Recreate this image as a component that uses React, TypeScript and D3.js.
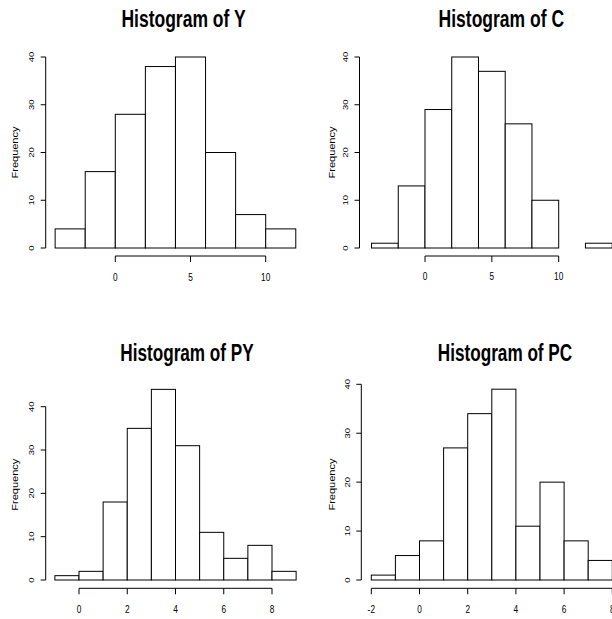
import React from "react";
import * as d3 from "d3";

// ---- data ----
const yBreaks = [-4, -2, 0, 2, 4, 6, 8, 10, 12];
const yCounts = [4, 16, 28, 38, 40, 20, 7, 4];
const cBreaks = [-4, -2, 0, 2, 4, 6, 8, 10, 12, 14];
const cCounts = [1, 13, 29, 40, 37, 26, 10, 0, 1];
const pyBreaks = [-1, 0, 1, 2, 3, 4, 5, 6, 7, 8, 9];
const pyCounts = [1, 2, 18, 35, 44, 31, 11, 5, 8, 2];
const pcBreaks = [-2, -1, 0, 1, 2, 3, 4, 5, 6, 7, 8];
const pcCounts = [1, 5, 8, 27, 34, 39, 11, 20, 8, 4];

const yXTicks = [0, 5, 10];
const cXTicks = [0, 5, 10];
const pyXTicks = [0, 2, 4, 6, 8];
const pcXTicks = [-2, 0, 2, 4, 6, 8];
const freqTicks = [0, 10, 20, 30, 40];

const titles = ["Histogram of Y", "Histogram of C", "Histogram of PY", "Histogram of PC"];

// ---- layout ----
type Panel = {
  title: string;
  breaks: number[];
  counts: number[];
  xTicks: number[];
  xDom: [number, number];
  xRange: [number, number];
  yRange: [number, number]; // pixel for 0 and 40
  yAxisX: number;
  xAxisY: number;
  titleX: number;
  titleY: number;
  tickLabelY: number;
  freqX: number;
  titleScale: number;
};

const panels: Panel[] = [
  {
    title: titles[0], breaks: yBreaks, counts: yCounts, xTicks: yXTicks,
    xDom: [0, 10], xRange: [115.3, 265.7], yRange: [248, 57],
    yAxisX: 45.7, xAxisY: 256, titleX: 183.5, titleY: 27.3, tickLabelY: 280.5,
    freqX: 14, titleScale: 0.745,
  },
  {
    title: titles[1], breaks: cBreaks, counts: cCounts, xTicks: cXTicks,
    xDom: [0, 10], xRange: [425, 558.7], yRange: [248, 57],
    yAxisX: 359.5, xAxisY: 256, titleX: 501.3, titleY: 27.3, tickLabelY: 280,
    freqX: 331, titleScale: 0.745,
  },
  {
    title: titles[2], breaks: pyBreaks, counts: pyCounts, xTicks: pyXTicks,
    xDom: [0, 8], xRange: [79, 272], yRange: [580, 406.7],
    yAxisX: 45.7, xAxisY: 588.3, titleX: 187, titleY: 360.5, tickLabelY: 613,
    freqX: 14, titleScale: 0.73,
  },
  {
    title: titles[3], breaks: pcBreaks, counts: pcCounts, xTicks: pcXTicks,
    xDom: [-2, 8], xRange: [371.3, 612.3], yRange: [580, 384.3],
    yAxisX: 361.3, xAxisY: 588.3, titleX: 505, titleY: 360.5, tickLabelY: 613,
    freqX: 331, titleScale: 0.73,
  },
];

const FONT = "'Liberation Sans', Arial, Helvetica, sans-serif";

function HistPanel({ p }: { p: Panel }) {
  const x = d3.scaleLinear().domain(p.xDom).range(p.xRange);
  const y = d3.scaleLinear().domain([0, 40]).range(p.yRange);
  const maxC = d3.max(p.counts) as number;
  const yTickVals = freqTicks.filter((t) => t <= Math.max(40, maxC));
  const freqCenter = y(maxC / 2);
  const bins = p.counts.map((c, i) => ({ x0: p.breaks[i], x1: p.breaks[i + 1], c }));
  const xt0 = p.xTicks[0];
  const xt1 = p.xTicks[p.xTicks.length - 1];
  return (
    <g>
      <text
        transform={`translate(${p.titleX},${p.titleY}) scale(${p.titleScale},1)`}
        textAnchor="middle"
        fontFamily={FONT}
        fontWeight="bold"
        fontSize={23.5}
        fill="#000"
      >
        {p.title}
      </text>
      {bins.map((b, i) => (
        <rect
          key={i}
          x={x(b.x0)}
          y={y(b.c)}
          width={x(b.x1) - x(b.x0)}
          height={y(0) - y(b.c)}
          fill="#fff"
          stroke="#000"
          strokeWidth={1}
        />
      ))}
      {/* y axis */}
      <line x1={p.yAxisX} x2={p.yAxisX} y1={y(0)} y2={y(yTickVals[yTickVals.length - 1])} stroke="#000" strokeWidth={1} />
      {yTickVals.map((t) => (
        <g key={t}>
          <line x1={p.yAxisX - 5} x2={p.yAxisX} y1={y(t)} y2={y(t)} stroke="#000" strokeWidth={1} />
          <text
            transform={`translate(${p.yAxisX - 11.5},${y(t)}) rotate(-90) scale(1,0.85)`}
            textAnchor="middle"
            fontFamily={FONT}
            fontSize={9.5}
            fill="#000"
          >
            {t}
          </text>
        </g>
      ))}
      <text
        transform={`translate(${p.freqX + 3.5},${freqCenter}) rotate(-90) scale(1,0.75)`}
        textAnchor="middle"
        fontFamily={FONT}
        fontSize={11}
        fill="#000"
      >
        Frequency
      </text>
      {/* x axis */}
      <line x1={x(xt0)} x2={x(xt1)} y1={p.xAxisY} y2={p.xAxisY} stroke="#000" strokeWidth={1} />
      {p.xTicks.map((t) => (
        <g key={t}>
          <line x1={x(t)} x2={x(t)} y1={p.xAxisY} y2={p.xAxisY + 6} stroke="#000" strokeWidth={1} />
          <text
            transform={`translate(${x(t)},${p.tickLabelY}) scale(0.72,1)`}
            textAnchor="middle"
            fontFamily={FONT}
            fontSize={11.5}
            fill="#000"
          >
            {t}
          </text>
        </g>
      ))}
    </g>
  );
}

export default function App() {
  return (
    <div style={{ position: "absolute", left: 0, top: 0 }}>
      <svg width={612} height={619} style={{ display: "block", background: "#fff" }}>
        <rect x={0} y={0} width={612} height={619} fill="#fff" />
        {panels.map((p, i) => (
          <HistPanel key={i} p={p} />
        ))}
      </svg>
    </div>
  );
}
